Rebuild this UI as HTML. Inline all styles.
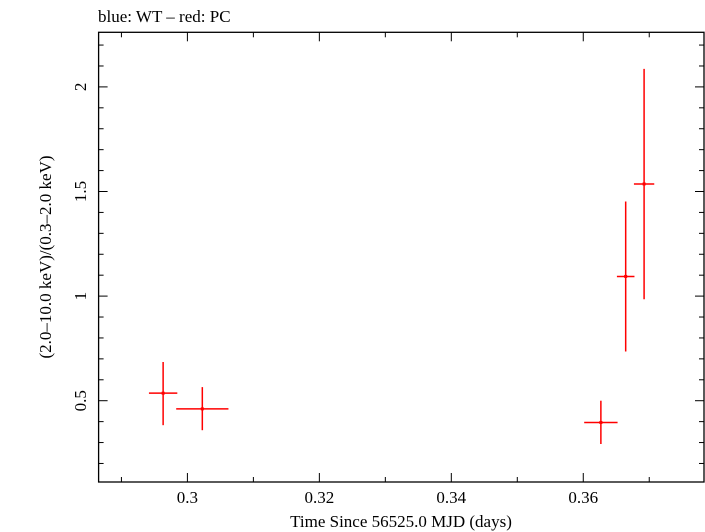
<!DOCTYPE html>
<html><head><meta charset="utf-8"><style>
html,body{margin:0;padding:0;background:#fff;}
svg{display:block;font-family:"Liberation Serif",serif;}
</style></head><body>
<svg id="chart" width="705" height="532" viewBox="0 0 705 532">
<text x="98" y="22" font-size="17">blue: WT – red: PC</text>
<g id="axes"></g>
<g id="marks"></g>
<text x="401" y="527" font-size="17" text-anchor="middle">Time Since 56525.0 MJD (days)</text>
<text transform="translate(51,257) rotate(-90)" font-size="17" text-anchor="middle">(2.0–10.0 keV)/(0.3–2.0 keV)</text>
</svg>
<script>
const xVals=[0.29632,0.30226,0.36267,0.36643,0.36922];
const xErrs=[0.00215,0.00396,0.00253,0.00133,0.00154];
const yVals=[0.536,0.461,0.396,1.094,1.536];
const yHi=[0.685,0.565,0.500,1.452,2.086];
const yLo=[0.383,0.359,0.293,0.735,0.985];
const xTickLabels=["0.3","0.32","0.34","0.36"];
const xTickVals=[0.30,0.32,0.34,0.36];
const yTickLabels=["0.5","1","1.5","2"];
const yTickVals=[0.5,1,1.5,2];

const L=98.6,R=704,T=32.3,B=482;
const X0=0.28654,X1=0.37830,Y0=0.1114,Y1=2.261;
const sx=v=>L+(v-X0)/(X1-X0)*(R-L);
const sy=v=>B-(v-Y0)/(Y1-Y0)*(B-T);
const NS="http://www.w3.org/2000/svg";
function mk(tag,attrs,parent){const e=document.createElementNS(NS,tag);for(const k in attrs)e.setAttribute(k,attrs[k]);parent.appendChild(e);return e;}
const axes=document.getElementById('axes'),marks=document.getElementById('marks');
const frame=mk('rect',{x:L,y:T,width:R-L,height:B-T,fill:'none',stroke:'#000','stroke-width':1.3},axes);


// x ticks
for(let i=0;i<=9;i++){const v=0.29+i*0.01;if(v>X1)break;const x=sx(v);const major=Math.abs(v*50-Math.round(v*50))<1e-6;const len=major?9:5;
const t1=mk('line',{x1:x,x2:x,y1:B,y2:B-len,stroke:'#000','stroke-width':1},axes);


const t2=mk('line',{x1:x,x2:x,y1:T,y2:T+len,stroke:'#000','stroke-width':1},axes);

}
xTickVals.forEach((v,i)=>{const t=mk('text',{x:sx(v),y:503,'font-size':17,'text-anchor':'middle'},axes);t.textContent=xTickLabels[i];

});
// y ticks
for(let i=2;i<=22;i++){const v=i*0.1;const y=sy(v);const major=i%5===0;const len=major?9:5;
const t1=mk('line',{x1:L,x2:L+len,y1:y,y2:y,stroke:'#000','stroke-width':1},axes);


const t2=mk('line',{x1:R,x2:R-len,y1:y,y2:y,stroke:'#000','stroke-width':1},axes);

}
yTickVals.forEach((v,i)=>{const t=mk('text',{transform:`translate(86,${sy(v)}) rotate(-90)`,'font-size':17,'text-anchor':'middle'},axes);t.textContent=yTickLabels[i];

});
// data
xVals.forEach((xv,i)=>{const g=mk('g',{},marks);


mk('line',{x1:sx(xv-xErrs[i]),x2:sx(xv+xErrs[i]),y1:sy(yVals[i]),y2:sy(yVals[i]),stroke:'#f00','stroke-width':1.5},g);
mk('line',{x1:sx(xv),x2:sx(xv),y1:sy(yLo[i]),y2:sy(yHi[i]),stroke:'#f00','stroke-width':1.5},g);
mk('rect',{x:sx(xv)-1.5,y:sy(yVals[i])-1.5,width:3,height:3,fill:'#f00'},g);});
</script>
</body></html>
